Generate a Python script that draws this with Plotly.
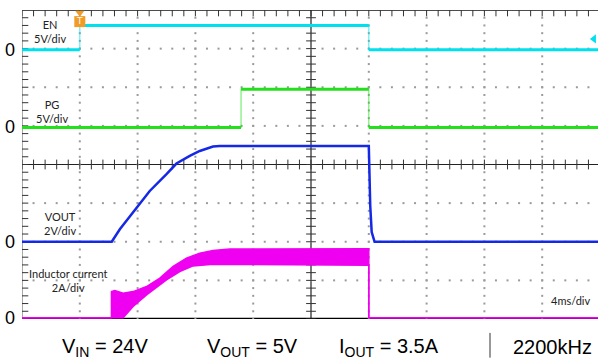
import numpy as np
import plotly.graph_objects as go

# time in ms, trigger at 0, 4 ms/div
en_t = [-4, 0, 0, 20.0, 20.0, 36]
en_v = [0, 0, 3.15, 3.15, 0, 0]

pg_t = [-4, 11.16, 11.16, 20.0, 20.0, 36]
pg_v = [0, 0, 4.95, 4.95, 0, 0]

vout_t = [-4, 2.21, 2.77, 3.69, 4.84, 6.0, 6.69, 7.61, 8.30, 9.22, 9.69, 20.0, 20.1, 20.2, 20.4, 36]
vout_v = [0, 0, 0.65, 1.51, 2.63, 3.50, 4.05, 4.45, 4.70, 4.93, 4.96, 4.96, 1.85, 0.5, 0.0, 0.0]

# inductor current ripple envelope (A)
il_hi_t = [-4, 2.19, 2.19, 2.42, 3.0, 3.69, 4.62, 5.54, 6.46, 7.38, 8.30, 9.22, 10.38, 20.0, 20.0, 36]
il_hi_a = [0, 0, 1.36, 1.41, 1.28, 1.36, 1.62, 2.06, 2.66, 3.09, 3.35, 3.49, 3.56, 3.58, 0, 0]
il_lo_t = [-4, 2.19, 3.0, 3.69, 4.62, 6.0, 6.92, 7.84, 9.22, 20.0, 20.0, 36]
il_lo_a = [0, 0, 0, 0.59, 1.19, 1.97, 2.40, 2.69, 2.78, 2.72, 0, 0]

# zero offset (div), scale (unit/div), colour
channels = {
    "EN": (2.97, 5, "#00e1f0"),
    "PG": (0.96, 5, "#22e01a"),
    "VOUT": (-2.0, 2, "#1428e6"),
    "IL": (-3.97, 2, "#f000f0"),
}

X0, X1 = -4, -4 + 576 / 57.8 * 4


def to_div(ch, vals):
    off, scale, _ = channels[ch]
    return [off + v / scale for v in vals]


def levels_only(t, y):
    # break the path at vertical edges so the levels can be drawn thicker
    xs, ys = [t[0]], [y[0]]
    for i in range(1, len(t)):
        if t[i] == t[i - 1]:
            xs.append(None)
            ys.append(None)
        xs.append(t[i])
        ys.append(y[i])
    return xs, ys


def px(x):
    # pixel column -> paper x
    return (x - 22) / 576


fig = go.Figure()

# graticule dots
minor_x = np.arange(-4, 36, 0.8)
minor_y = np.arange(-4, 4.01, 0.2)
gx, gy = [], []
for t in [0, 4, 8, 12, 20, 24, 28, 32]:
    gx += [t] * len(minor_y)
    gy += list(minor_y)
for y in [-3, -2, -1, 1, 2, 3]:
    gx += list(minor_x)
    gy += [y] * len(minor_x)
fig.add_trace(go.Scatter(x=gx, y=gy, mode="markers",
                         marker=dict(symbol="square", size=2, color="#9a9a9a"),
                         hoverinfo="skip", showlegend=False))

# ticks on centre lines and borders
tick = dict(color="#333333", width=1)
fig.add_trace(go.Scatter(x=[16] * len(minor_y), y=minor_y, mode="markers",
                         marker=dict(symbol="line-ew", size=7, line=tick), showlegend=False))
fig.add_trace(go.Scatter(x=minor_x, y=[0] * len(minor_x), mode="markers",
                         marker=dict(symbol="line-ns", size=7, line=tick), showlegend=False))
fig.add_trace(go.Scatter(x=minor_x, y=[4] * len(minor_x), mode="markers",
                         marker=dict(symbol="line-ns", size=9, line=tick), showlegend=False))
fig.add_trace(go.Scatter(x=[X0] * len(minor_y), y=minor_y, mode="markers",
                         marker=dict(symbol="line-ew", size=9, line=tick), showlegend=False))

# step waveforms: thin edges, thick levels
for ch, t, v in [("EN", en_t, en_v), ("PG", pg_t, pg_v)]:
    col = channels[ch][2]
    y = to_div(ch, v)
    fig.add_trace(go.Scatter(x=t, y=y, mode="lines", opacity=0.6,
                             line=dict(color=col, width=1.2), showlegend=False))
    lx, ly = levels_only(t, y)
    fig.add_trace(go.Scatter(x=lx, y=ly, mode="lines",
                             line=dict(color=col, width=3), showlegend=False))

fig.add_trace(go.Scatter(x=vout_t, y=to_div("VOUT", vout_v), mode="lines",
                         line=dict(color=channels["VOUT"][2], width=2.5), showlegend=False))
fig.add_trace(go.Scatter(x=il_lo_t, y=to_div("IL", il_lo_a), mode="lines",
                         line=dict(color=channels["IL"][2], width=1.5), showlegend=False))
fig.add_trace(go.Scatter(x=il_hi_t, y=to_div("IL", il_hi_a), mode="lines", fill="tonexty",
                         fillcolor=channels["IL"][2],
                         line=dict(color=channels["IL"][2], width=1.5), showlegend=False))

# trigger markers
fig.add_trace(go.Scatter(x=[0], y=[3.93], mode="markers", cliponaxis=False,
                         marker=dict(symbol="triangle-down", size=8, color="#f29b26"),
                         showlegend=False))
fig.add_trace(go.Scatter(x=[0], y=[3.70], mode="markers+text", cliponaxis=False,
                         marker=dict(symbol="square", size=11, color="#f29b26"),
                         text=["T"], textposition="middle center",
                         textfont=dict(family="DejaVu Sans", size=9, color="white"),
                         showlegend=False))
fig.add_trace(go.Scatter(x=[35.58], y=[3.25], mode="markers", cliponaxis=False,
                         marker=dict(symbol="triangle-left", size=8, color="#00e1f0"),
                         showlegend=False))

shapes = [
    dict(type="line", x0=16, x1=16, y0=-4, y1=4, line=dict(color="#222222", width=1.2), layer="below"),
    dict(type="line", x0=X0, x1=X1, y0=0, y1=0, line=dict(color="#222222", width=1.2), layer="below"),
    dict(type="line", x0=X0, x1=X1, y0=4, y1=4, line=dict(color="#111111", width=1.5), layer="below"),
    dict(type="line", x0=X0, x1=X1, y0=-4, y1=-4, line=dict(color="#000000", width=2.5), layer="below"),
    dict(type="line", x0=X0, x1=X0, y0=-4, y1=4, line=dict(color="#555555", width=1), layer="below"),
    dict(type="line", xref="paper", yref="paper", x0=px(490), x1=px(490), y0=-0.045, y1=-0.125,
         line=dict(color="#333333", width=1)),
]

lab_font = dict(family="Lato, Open Sans", size=11, color="#222222")
annotations = [
    dict(x=px(50), y=3.45, text="EN<br>5V/div"),
    dict(x=px(52), y=1.37, text="PG<br>5V/div"),
    dict(x=px(60), y=-1.52, text="VOUT<br>2V/div"),
    dict(x=px(68), y=-3.0, text="Inductor current<br>2A/div"),
    dict(x=px(570), y=-3.53, text="4ms/div"),
]
for a in annotations:
    a.update(xref="paper", xanchor="center", yanchor="middle", showarrow=False, font=lab_font)

for ch in channels:
    annotations.append(dict(x=px(17), xref="paper", xanchor="right", y=channels[ch][0], yanchor="middle",
                            text="0", showarrow=False,
                            font=dict(family="Liberation Sans", size=18, color="black")))

bottom_font = dict(family="Liberation Sans", size=20, color="black")
for cx, txt in [(105, "V<sub>IN</sub> = 24V"), (252, "V<sub>OUT</sub> = 5V"),
                (389, "I<sub>OUT</sub> = 3.5A"), (552, "2200kHz")]:
    annotations.append(dict(x=px(cx), xref="paper", xanchor="center", y=(319 - 347) / 309, yref="paper",
                            yanchor="middle", text=txt, showarrow=False, font=bottom_font))

fig.update_layout(
    width=598, height=360,
    margin=dict(l=22, r=0, t=10, b=41),
    plot_bgcolor="white", paper_bgcolor="white",
    xaxis=dict(range=[X0, X1], showgrid=False, zeroline=False, showticklabels=False, ticks=""),
    yaxis=dict(range=[-4, 4], showgrid=False, zeroline=False, showticklabels=False, ticks=""),
    shapes=shapes,
    annotations=annotations,
)

fig.write_html("out.html", config={"displayModeBar": False},
               post_script="document.body.style.margin='0';")
